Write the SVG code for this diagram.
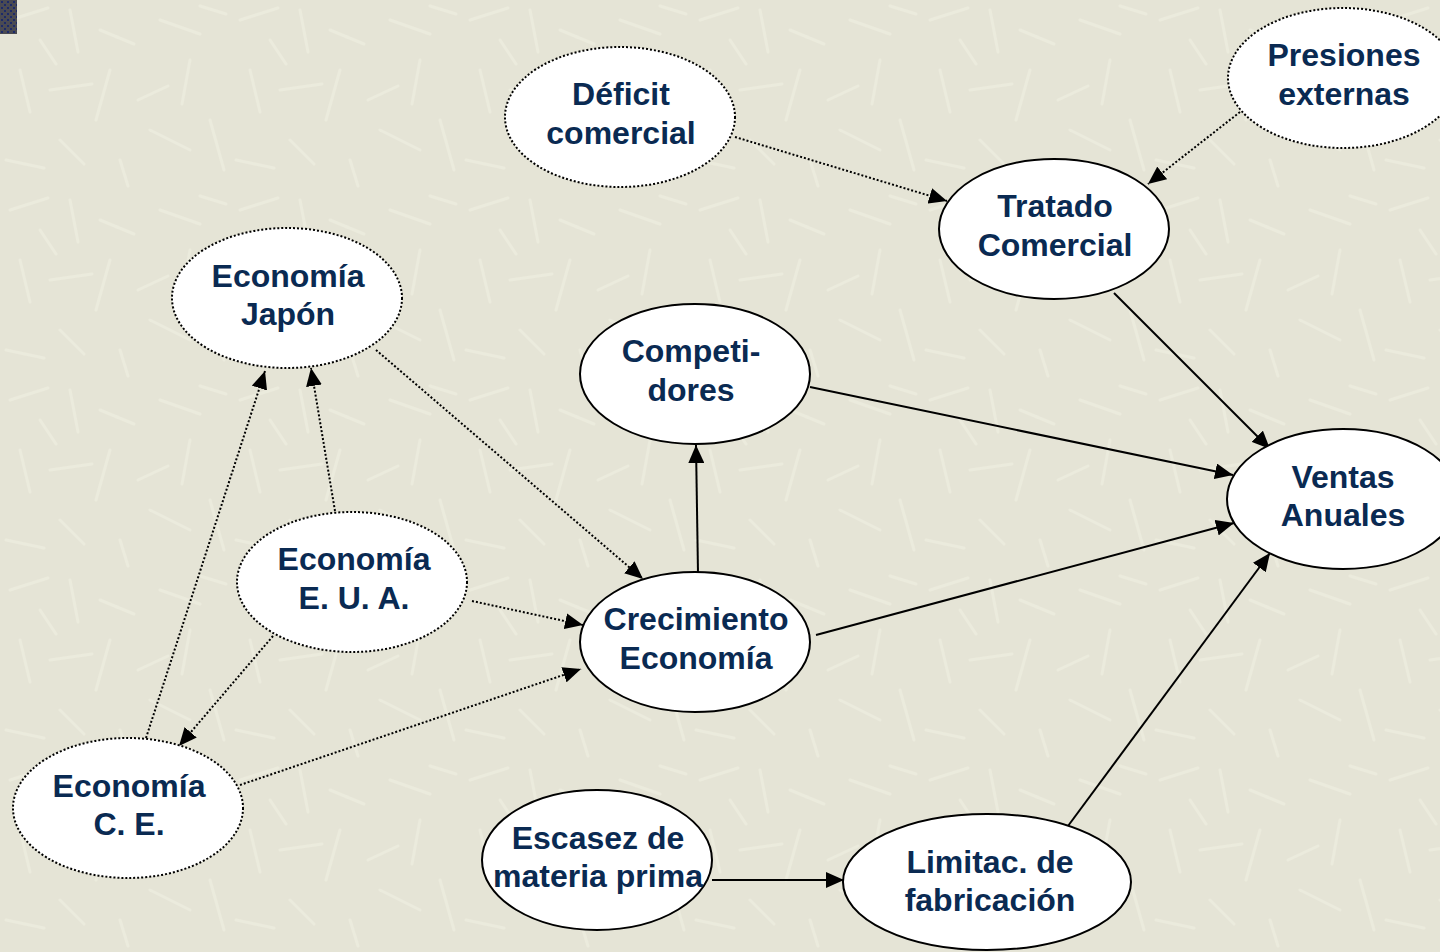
<svg xmlns="http://www.w3.org/2000/svg" width="1440" height="952" viewBox="0 0 1440 952">
  <style>
    .node { fill: #ffffff; stroke: #000000; stroke-width: 2; }
    .node.dotted { stroke-width: 2; stroke-dasharray: 2 2; }
    .label { font-family: "Liberation Sans", Arial, sans-serif; font-weight: bold; font-size: 32px; fill: #0a2a52; text-anchor: middle; }
    .edge { fill: none; stroke: #000000; stroke-width: 2; }
    .edge.dotted { stroke-dasharray: 2 2; }
  </style>
  <defs>
    <marker id="arrow" markerUnits="userSpaceOnUse" markerWidth="20" markerHeight="16" refX="18" refY="8" orient="auto">
      <path d="M0,0 L18,8 L0,16 Z" fill="#000000"/>
    </marker>
    <!-- soft straw texture for the backdrop -->
    <pattern id="straw" width="230" height="190" patternUnits="userSpaceOnUse">
      <rect width="230" height="190" fill="#e5e4d6"/>
      <g stroke="#f1f0e2" stroke-width="3" stroke-linecap="round" opacity="0.55">
        <line x1="10" y1="20" x2="48" y2="8"/>
        <line x1="70" y1="10" x2="78" y2="52"/>
        <line x1="100" y1="30" x2="134" y2="44"/>
        <line x1="20" y1="70" x2="30" y2="112"/>
        <line x1="50" y1="90" x2="92" y2="84"/>
        <line x1="110" y1="70" x2="96" y2="120"/>
        <line x1="6" y1="160" x2="44" y2="168"/>
        <line x1="60" y1="140" x2="84" y2="164"/>
        <line x1="40" y1="40" x2="56" y2="64"/>
        <line x1="138" y1="100" x2="168" y2="86"/>
        <line x1="160" y1="20" x2="200" y2="34"/>
        <line x1="190" y1="60" x2="182" y2="104"/>
        <line x1="150" y1="130" x2="190" y2="150"/>
        <line x1="210" y1="120" x2="224" y2="170"/>
        <line x1="120" y1="160" x2="128" y2="186"/>
        <line x1="200" y1="6" x2="226" y2="14"/>
      </g>
    </pattern>
    <pattern id="chip" width="6" height="6" patternUnits="userSpaceOnUse">
      <rect width="6" height="6" fill="#4a4a52"/>
      <rect x="1" y="1" width="2" height="2" fill="#1c2a6a"/>
      <rect x="4" y="4" width="2" height="2" fill="#1c2a6a"/>
    </pattern>
  </defs>

  <rect width="1440" height="952" fill="url(#straw)"/>
  <rect x="0" y="0" width="17" height="34" fill="url(#chip)"/>

  <!-- connectors -->
  <g id="connectors">
    <line class="edge dotted" x1="735" y1="137" x2="947" y2="201" marker-end="url(#arrow)"/>
    <line class="edge dotted" x1="1240" y1="112" x2="1148" y2="184" marker-end="url(#arrow)"/>
    <line class="edge" x1="1114" y1="293" x2="1270" y2="449" marker-end="url(#arrow)"/>
    <line class="edge" x1="810" y1="387" x2="1233" y2="475" marker-end="url(#arrow)"/>
    <line class="edge" x1="816" y1="635" x2="1234" y2="523" marker-end="url(#arrow)"/>
    <line class="edge" x1="1068" y1="826" x2="1270" y2="553" marker-end="url(#arrow)"/>
    <line class="edge" x1="698" y1="573" x2="696" y2="445" marker-end="url(#arrow)"/>
    <line class="edge dotted" x1="376" y1="350" x2="643" y2="579" marker-end="url(#arrow)"/>
    <line class="edge dotted" x1="335" y1="511" x2="311" y2="368" marker-end="url(#arrow)"/>
    <line class="edge dotted" x1="146" y1="738" x2="265" y2="371" marker-end="url(#arrow)"/>
    <line class="edge dotted" x1="472" y1="601" x2="583" y2="625" marker-end="url(#arrow)"/>
    <line class="edge dotted" x1="273" y1="636" x2="179" y2="746" marker-end="url(#arrow)"/>
    <line class="edge dotted" x1="240" y1="785" x2="581" y2="669" marker-end="url(#arrow)"/>
    <line class="edge" x1="712" y1="880" x2="844" y2="880" marker-end="url(#arrow)"/>
  </g>

  <g id="deficit">
    <ellipse class="node dotted" cx="620" cy="117" rx="115" ry="70"/>
    <text class="label" x="621" y="105">Déficit</text>
    <text class="label" x="621" y="144">comercial</text>
  </g>
  <g id="presiones">
    <ellipse class="node dotted" cx="1343" cy="78" rx="115" ry="70"/>
    <text class="label" x="1344" y="66">Presiones</text>
    <text class="label" x="1344" y="105">externas</text>
  </g>
  <g id="tratado">
    <ellipse class="node" cx="1054" cy="229" rx="115" ry="70"/>
    <text class="label" x="1055" y="217">Tratado</text>
    <text class="label" x="1055" y="256">Comercial</text>
  </g>
  <g id="japon">
    <ellipse class="node dotted" cx="287" cy="298" rx="115" ry="70"/>
    <text class="label" x="288" y="287">Economía</text>
    <text class="label" x="288" y="325">Japón</text>
  </g>
  <g id="competidores">
    <ellipse class="node" cx="695" cy="374" rx="115" ry="70"/>
    <text class="label" x="691" y="362">Competi-</text>
    <text class="label" x="691" y="401">dores</text>
  </g>
  <g id="ventas">
    <ellipse class="node" cx="1343" cy="499" rx="116" ry="70"/>
    <text class="label" x="1343" y="488">Ventas</text>
    <text class="label" x="1343" y="526">Anuales</text>
  </g>
  <g id="eua">
    <ellipse class="node dotted" cx="352" cy="582" rx="115" ry="70"/>
    <text class="label" x="354" y="570">Economía</text>
    <text class="label" x="354" y="609">E. U. A.</text>
  </g>
  <g id="crecimiento">
    <ellipse class="node" cx="695" cy="642" rx="115" ry="70"/>
    <text class="label" x="696" y="630">Crecimiento</text>
    <text class="label" x="696" y="669">Economía</text>
  </g>
  <g id="ce">
    <ellipse class="node dotted" cx="128" cy="808" rx="115" ry="70"/>
    <text class="label" x="129" y="797">Economía</text>
    <text class="label" x="129" y="835">C. E.</text>
  </g>
  <g id="escasez">
    <ellipse class="node" cx="597" cy="860" rx="115" ry="70"/>
    <text class="label" x="598" y="849">Escasez de</text>
    <text class="label" x="598" y="887">materia prima</text>
  </g>
  <g id="limitac">
    <ellipse class="node" cx="987" cy="882" rx="144" ry="68"/>
    <text class="label" x="990" y="873">Limitac. de</text>
    <text class="label" x="990" y="911">fabricación</text>
  </g>
</svg>
